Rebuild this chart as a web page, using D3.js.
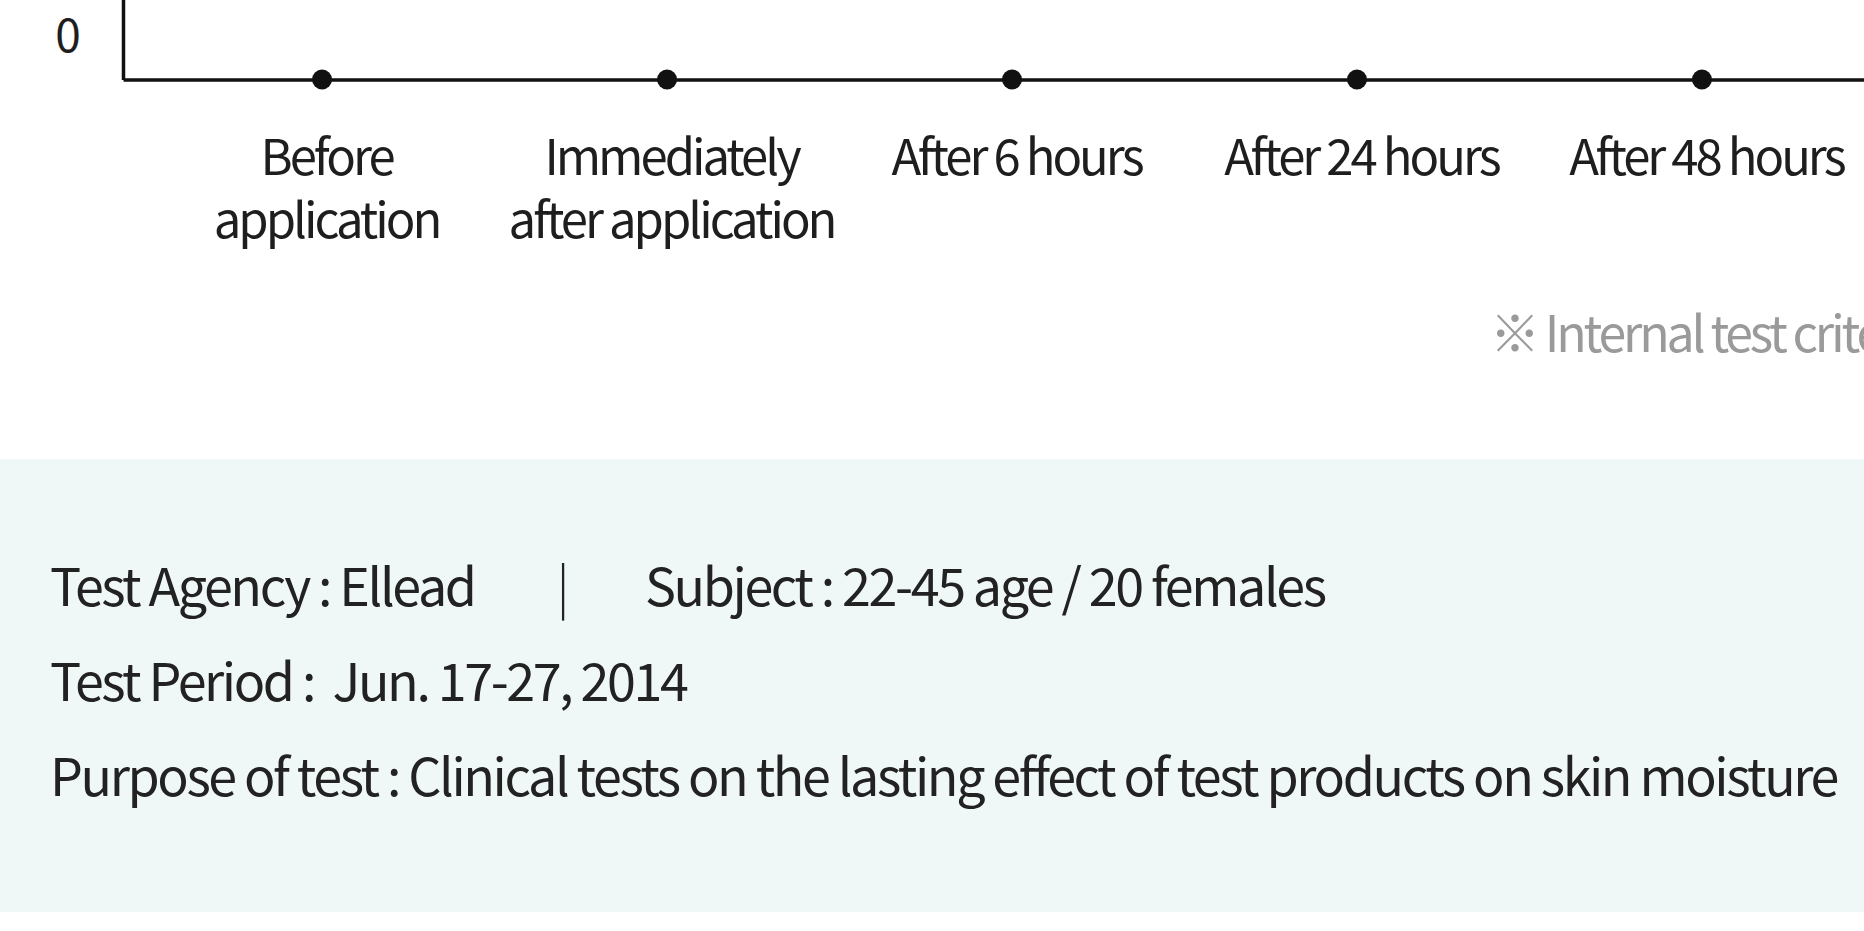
<!DOCTYPE html>
<html>
<head>
    <meta charset="utf-8">
    <title>Skin moisture test</title>
    <script src="https://d3js.org/d3.v7.min.js"></script>
    <style>
        body { margin: 0; overflow: hidden; background: #fff; }
        svg { display: block; }
        text { font-family: "Noto Sans CJK KR", "Noto Sans", sans-serif; }
        .axis path { stroke: #111; stroke-width: 3.5px; }
        .cat { font-size: 49px; letter-spacing: -3px; fill: #1e1e1e; }
        .info { font-size: 52px; letter-spacing: -2.4px; fill: #222; white-space: pre; }
    </style>
</head>
<body>
<div id="chart"></div>
<script type="text/javascript">
    // categorias do eixo x (cada item = linhas do rótulo)
    var categories = ["before", "immediately", "6h", "24h", "48h"];
    var catLabels = [
        ["Before", "application"],
        ["Immediately", "after application"],
        ["After 6 hours"],
        ["After 24 hours"],
        ["After 48 hours"]
    ];
    // valores visíveis da série (pontos sobre a linha de base)
    var values = [0, 0, 0, 0, 0];
    var yTicks = [0];

    var note = "※ Internal test criteria";
    var infoLine1 = ["Test Agency : Ellead", "|", "Subject : 22-45 age / 20 females"];
    var infoLine2 = "Test Period :  Jun. 17-27, 2014";
    var infoLine3 = "Purpose of test : Clinical tests on the lasting effect of test products on skin moisture";

    let W = 1864, H = 931;
    let margin = {top: 0, left: 123};
    let baseY = 79.5;

    let svg = d3.select("#chart")
        .append("svg")
        .attr("width", W)
        .attr("height", H);

    // escalas
    let xScale = d3.scalePoint()
        .domain(categories)
        .range([margin.left, 1901])
        .padding(0.577);

    let yScale = d3.scaleLinear()
        .domain([0, 10])
        .range([baseY, -300]);

    // eixo y (só o rótulo 0, deslocado para cima)
    let yAxis = d3.axisLeft(yScale).tickValues(yTicks).tickSize(0).tickSizeOuter(0);
    let gy = svg.append("g")
        .attr("class", "axis")
        .attr("transform", "translate(" + margin.left + ",0)")
        .call(yAxis);
    gy.selectAll(".tick text")
        .attr("x", -55)
        .attr("y", -44)
        .attr("dy", "0.35em")
        .style("text-anchor", "middle")
        .attr("font-size", "46px")
        .attr("fill", "#1e1e1e")
        .attr("font-family", "Noto Sans CJK KR, sans-serif");

    // eixo x
    let xAxis = d3.axisBottom(xScale).tickSize(0).tickSizeOuter(0).tickFormat("");
    let gx = svg.append("g")
        .attr("class", "axis")
        .attr("transform", "translate(0," + baseY + ")")
        .call(xAxis);

    gx.selectAll(".tick").each(function(d, i) {
        let t = d3.select(this).append("text")
            .attr("class", "cat")
            .attr("text-anchor", "middle")
            .attr("y", 95);
        catLabels[i].forEach(function(line, j) {
            t.append("tspan")
                .attr("x", 4)
                .attr("dy", j == 0 ? 0 : 63)
                .text(line);
        });
    });

    // pontos
    svg.selectAll("circle")
        .data(values)
        .enter()
        .append("circle")
        .attr("cx", function(d, i) { return xScale(categories[i]); })
        .attr("cy", function(d) { return yScale(d); })
        .attr("r", 10)
        .attr("fill", "#111");

    // nota
    svg.append("text")
        .attr("x", 1490)
        .attr("y", 352)
        .attr("font-size", "50px")
        .attr("letter-spacing", "-3.2px")
        .attr("fill", "#9a9a9a")
        .text(note);

    // caixa de informações
    svg.append("rect")
        .attr("x", 0)
        .attr("y", 459)
        .attr("width", W)
        .attr("height", 453)
        .attr("fill", "#f0f8f7");

    svg.append("text").attr("class", "info").attr("x", 50).attr("y", 606).text(infoLine1[0]);
    svg.append("text").attr("class", "info").attr("x", 562).attr("y", 606)
        .attr("text-anchor", "middle").style("font-weight", 300).text(infoLine1[1]);
    svg.append("text").attr("class", "info").attr("x", 645).attr("y", 606).text(infoLine1[2]);
    svg.append("text").attr("class", "info").attr("x", 50).attr("y", 701).text(infoLine2);
    svg.append("text").attr("class", "info").attr("x", 50).attr("y", 796).text(infoLine3);
</script>
</body>
</html>
